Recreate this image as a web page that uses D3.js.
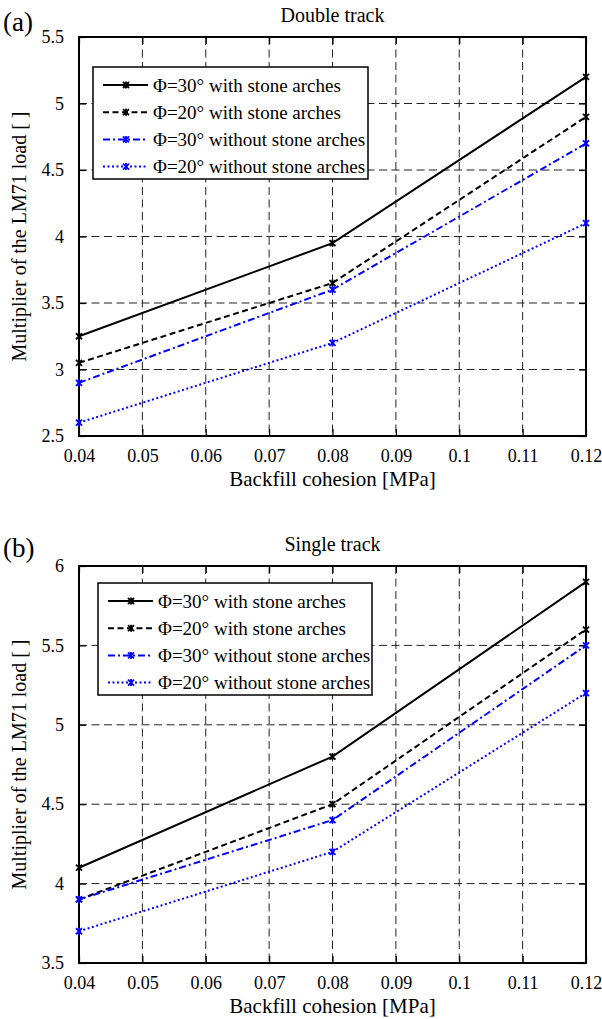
<!DOCTYPE html>
<html><head><meta charset="utf-8">
<script src="https://cdn.jsdelivr.net/npm/d3@7"></script>
<style>
body{margin:0;background:#fff}
svg{display:block;background:#fff;font-family:"Liberation Serif","Times New Roman",serif}
text{font-family:"Liberation Serif","Times New Roman",serif;fill:#000}
</style>
</head><body>
<svg id="chart" width="602" height="1019"></svg>
<script>
// ---- data ----
const cohesion = [0.04, 0.08, 0.12];
const xTickValues = [0.04, 0.05, 0.06, 0.07, 0.08, 0.09, 0.1, 0.11, 0.12];
const seriesNames = [
  "Φ=30° with stone arches",
  "Φ=20° with stone arches",
  "Φ=30° without stone arches",
  "Φ=20° without stone arches"
];
// Double track
const double30With    = [3.25, 3.95, 5.2];
const double20With    = [3.05, 3.65, 4.9];
const double30Without = [2.9, 3.6, 4.7];
const double20Without = [2.6, 3.2, 4.1];
const doubleYTicks = [2.5, 3, 3.5, 4, 4.5, 5, 5.5];
// Single track
const single30With    = [4.1, 4.8, 5.9];
const single20With    = [3.9, 4.5, 5.6];
const single30Without = [3.9, 4.4, 5.5];
const single20Without = [3.7, 4.2, 5.2];
const singleYTicks = [3.5, 4, 4.5, 5, 5.5, 6];

const styles = [
  {color:"#000", dash:null},
  {color:"#000", dash:"6,3.5"},
  {color:"#0000ff", dash:"7,3,2,3"},
  {color:"#0000ff", dash:"2,2.5"}
];

const svg = d3.select("#chart");
svg.append("rect").attr("width",602).attr("height",1019).attr("fill","#fff");

function panel(opt){
  const {left,right,top,bottom,yDomain,yTicks,series,title,tag,tagY,legend} = opt;
  const x = d3.scaleLinear().domain([0.04,0.12]).range([left,right]);
  const y = d3.scaleLinear().domain(yDomain).range([bottom,top]);
  const g = svg.append("g");

  // grid
  const grid = g.append("g").attr("stroke","#222").attr("stroke-width",1).attr("stroke-dasharray","8,4.5");
  xTickValues.slice(1,-1).forEach(v=>{
    grid.append("line").attr("x1",x(v)).attr("x2",x(v)).attr("y1",top).attr("y2",bottom);
  });
  yTicks.slice(1,-1).forEach(v=>{
    grid.append("line").attr("x1",left).attr("x2",right).attr("y1",y(v)).attr("y2",y(v));
  });

  // axes with inner ticks
  const tl = 7;
  const ax = g.append("g").attr("transform",`translate(0,${bottom})`)
    .call(d3.axisBottom(x).tickValues(xTickValues).tickSize(-tl).tickPadding(tl+5).tickFormat(d=>String(+d.toFixed(2))));
  const at = g.append("g").attr("transform",`translate(0,${top})`)
    .call(d3.axisTop(x).tickValues(xTickValues).tickSize(-tl).tickFormat(""));
  const ay = g.append("g").attr("transform",`translate(${left},0)`)
    .call(d3.axisLeft(y).tickValues(yTicks).tickSize(-tl).tickPadding(tl+8).tickFormat(d=>String(d)));
  const ar = g.append("g").attr("transform",`translate(${right},0)`)
    .call(d3.axisRight(y).tickValues(yTicks).tickSize(-tl).tickFormat(""));
  [ax,at,ay,ar].forEach(a=>{
    a.attr("font-family",null).attr("font-size",null);
    a.select(".domain").remove();
    a.selectAll(".tick line").attr("stroke","#000").attr("stroke-width",1.2);
    a.selectAll("text").attr("font-size",18).attr("fill","#000");
  });
  ax.selectAll("text").attr("dy","0.75em");

  // frame
  g.append("rect").attr("x",left).attr("y",top).attr("width",right-left).attr("height",bottom-top)
    .attr("fill","none").attr("stroke","#000").attr("stroke-width",2);

  // series
  const line = d3.line().x((d,i)=>x(cohesion[i])).y(d=>y(d));
  const mk = "M-3,-3L3,3M-3,3L3,-3M0,-3.5L0,3.5";
  series.forEach((s,k)=>{
    const st = styles[k];
    g.append("path").datum(s).attr("d",line).attr("fill","none")
      .attr("stroke",st.color).attr("stroke-width",2)
      .attr("stroke-dasharray",st.dash);
    g.selectAll(null).data(s).enter().append("path")
      .attr("transform",(d,i)=>`translate(${x(cohesion[i])},${y(d)})`)
      .attr("d",mk).attr("stroke",st.color).attr("stroke-width",1.8).attr("fill","none");
  });

  // legend
  const lg = g.append("g");
  lg.append("rect").attr("x",legend.x).attr("y",legend.y).attr("width",legend.w).attr("height",legend.h)
    .attr("fill","#fff").attr("stroke","#000").attr("stroke-width",1.5);
  seriesNames.forEach((n,k)=>{
    const st = styles[k];
    const cy = legend.y + 18 + k*27.2;
    lg.append("line").attr("x1",legend.x+10).attr("x2",legend.x+55).attr("y1",cy).attr("y2",cy)
      .attr("stroke",st.color).attr("stroke-width",2).attr("stroke-dasharray",st.dash);
    lg.append("path").attr("transform",`translate(${legend.x+33},${cy})`).attr("d",mk)
      .attr("stroke",st.color).attr("stroke-width",1.8).attr("fill","none");
    lg.append("text").attr("x",legend.x+60).attr("y",cy).attr("dy","0.35em")
      .attr("font-size",19).text(n);
  });

  // title, labels
  g.append("text").attr("x",(left+right)/2).attr("y",top-15).attr("text-anchor","middle")
    .attr("font-size",20).text(title);
  g.append("text").attr("x",(left+right)/2).attr("y",bottom+50).attr("text-anchor","middle")
    .attr("font-size",21).text("Backfill cohesion [MPa]");
  g.append("text").attr("transform",`translate(26,${(top+bottom)/2}) rotate(-90)`).attr("text-anchor","middle")
    .attr("font-size",20).text("Multiplier of the LM71 load [ ]");
  g.append("text").attr("x",3).attr("y",tagY).attr("font-size",27).text(tag);
}

panel({left:79,right:586,top:37,bottom:436,yDomain:[2.5,5.5],yTicks:doubleYTicks,
  series:[double30With,double20With,double30Without,double20Without],
  title:"Double track",tag:"(a)",tagY:31,
  legend:{x:93,y:67,w:275,h:112}});
panel({left:79,right:586,top:566,bottom:963,yDomain:[3.5,6],yTicks:singleYTicks,
  series:[single30With,single20With,single30Without,single20Without],
  title:"Single track",tag:"(b)",tagY:557,
  legend:{x:98,y:583,w:274,h:112}});
</script>
</body></html>
